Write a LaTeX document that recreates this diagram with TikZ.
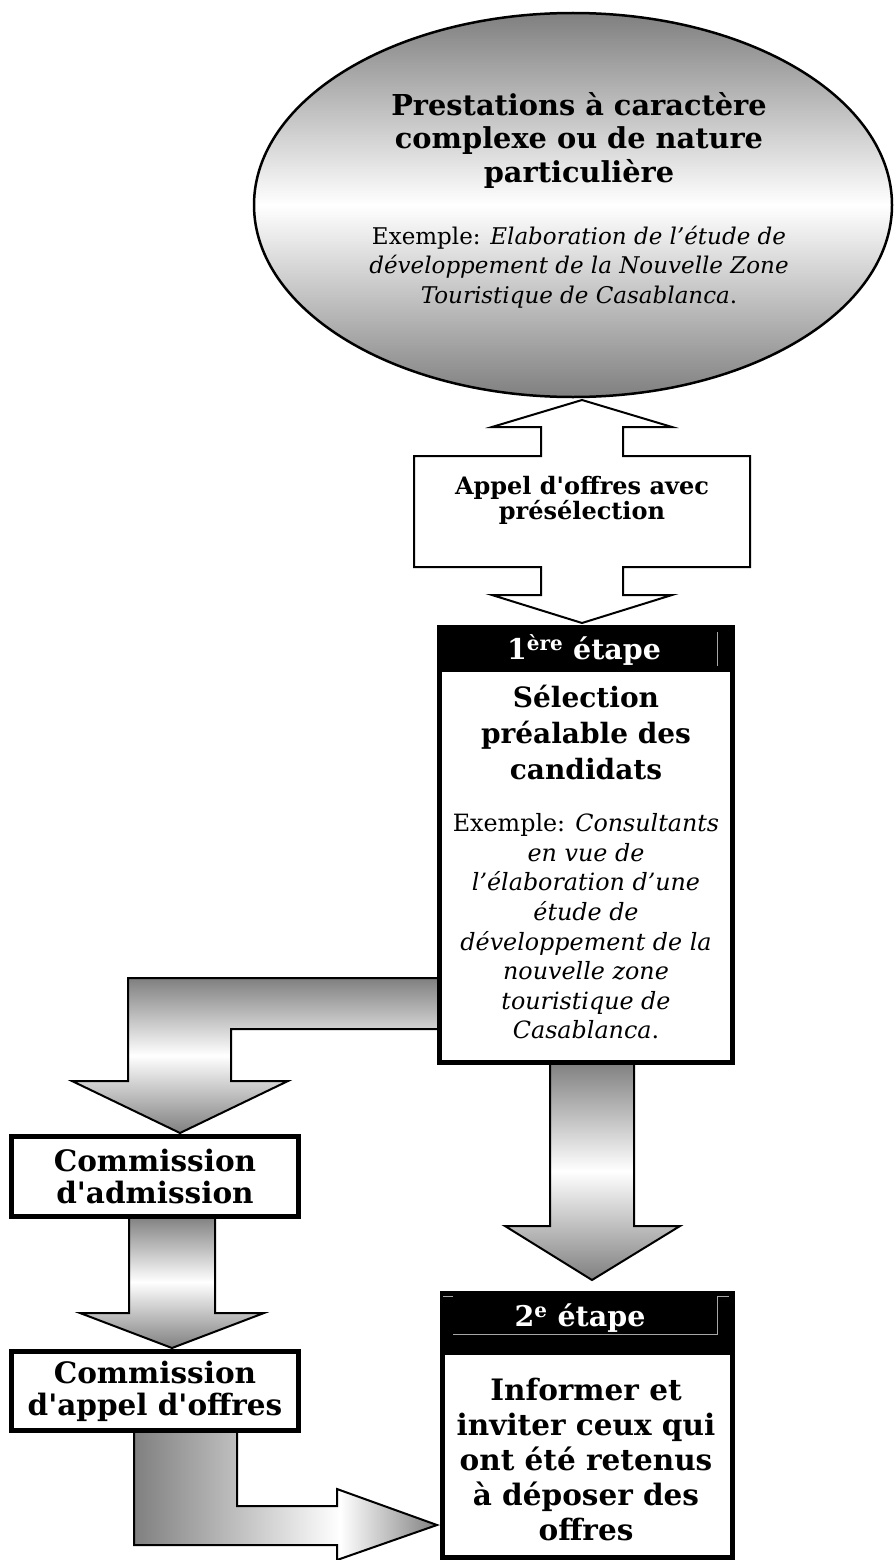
\documentclass[tikz,border=0pt]{standalone}
\usepackage{fontspec}
\setmainfont{DejaVu Serif}[Ligatures=TeXOff]
\pgfdeclarehorizontalshading{hmirror}{100bp}{color(0bp)=(gray); color(25bp)=(gray); color(59bp)=(white); color(75bp)=(gray); color(100bp)=(gray)}
\begin{document}
\begin{tikzpicture}[x=1pt,y=-1pt,
  blockarrow/.style={draw=black, line width=2pt, line join=miter},
  vshade/.style={top color=gray, bottom color=gray, middle color=white},
  box/.style={draw=black, line width=5pt, fill=white, inner sep=0pt},
  txt/.style={align=center, inner sep=0pt, text=black},
  hdr/.style={inner sep=0pt, text=white, font=\bfseries\fontsize{28.5}{30}\selectfont},
  thin/.style={draw=gray!70, line width=0.7pt}
]
\useasboundingbox (0,0) rectangle (894,1560);

% ellipse
\path[vshade, draw=black, line width=2.5pt] (573,205) ellipse [x radius=319, y radius=192];
\node[txt, font=\bfseries\fontsize{28.8}{33.5}\selectfont] (title) at (579,140)
  {Prestations à caractère\\complexe ou de nature\\particulière};
\node[txt, font=\fontsize{23}{29.5}\selectfont] (ex1) at (579,267)
  {Exemple: \textit{Elaboration de l’étude de}\\\textit{développement de la Nouvelle Zone}\\\textit{Touristique de Casablanca}.};

% double arrow
\path[blockarrow, fill=white] (582,400) -- (672,427) -- (623,427) -- (623,456) -- (750,456)
  -- (750,567) -- (623,567) -- (623,595) -- (672,595) -- (582,623) -- (492,595) -- (541,595)
  -- (541,567) -- (414,567) -- (414,456) -- (541,456) -- (541,427) -- (492,427) -- cycle;
\node[txt, font=\bfseries\fontsize{24}{25}\selectfont] (ao) at (582,500.5)
  {Appel d'offres avec\\présélection};

% left bent arrow from box 1
\path[blockarrow, vshade] (440,978) -- (128,978) -- (128,1081) -- (72,1081) -- (180,1133)
  -- (288,1081) -- (231,1081) -- (231,1029) -- (440,1029) -- cycle;

% arrow box1 -> box2
\path[blockarrow, vshade] (550,1062) -- (634,1062) -- (634,1226) -- (680,1226) -- (592,1280)
  -- (505,1226) -- (550,1226) -- cycle;

% box 1
\node[box, minimum width=293, minimum height=435] (b1) at (586,845) {};
\fill[black] (437,625) rectangle (735,672);
\draw[thin] (717,632) -- (717,666);
\node[hdr] (h1) at (584,650) {1\textsuperscript{ère} étape};
\node[txt, font=\bfseries\fontsize{28}{36}\selectfont] (s1) at (586,732.5)
  {Sélection\\préalable des\\candidats};
\node[txt, font=\fontsize{23.8}{29.6}\selectfont] (ex2) at (586,926.5)
  {Exemple: \textit{Consultants}\\\textit{en vue de}\\\textit{l’élaboration d’une}\\\textit{étude de}\\\textit{développement de la}\\\textit{nouvelle zone}\\\textit{touristique de}\\\textit{Casablanca}.};

% commission 1
\path[blockarrow, vshade] (129,1216) -- (215,1216) -- (215,1313) -- (264,1313) -- (172,1348)
  -- (80,1313) -- (129,1313) -- cycle;
\node[box, minimum width=287, minimum height=80] (c1) at (155,1176.5) {};
\node[txt, font=\bfseries\fontsize{29.5}{32}\selectfont] at (c1) {Commission\\d'admission};

% commission 2 and bent arrow
\path[blockarrow, shading=hmirror] (134,1430) -- (134,1545) -- (337,1545) -- (337,1560) -- (437,1525)
  -- (337,1489) -- (337,1506) -- (237,1506) -- (237,1430) -- cycle;
\node[box, minimum width=287, minimum height=79] (c2) at (155,1391) {};
\node[txt, font=\bfseries\fontsize{29.5}{32}\selectfont] at (c2) {Commission\\d'appel d'offres};

% box 2
\node[box, minimum width=290, minimum height=264] (b2) at (587.5,1425.5) {};
\fill[black] (440,1291) rectangle (735,1355);
\draw[thin] (443,1296) -- (453,1296);
\draw[thin] (453,1334) -- (717,1334) -- (717,1296) -- (729,1296);
\node[hdr] (h2) at (580,1318) {2\textsuperscript{e} étape};
\node[txt, font=\bfseries\fontsize{29.5}{35}\selectfont] (s2) at (586,1459)
  {Informer et\\inviter ceux qui\\ont été retenus\\à déposer des\\offres};
\end{tikzpicture}
\end{document}
